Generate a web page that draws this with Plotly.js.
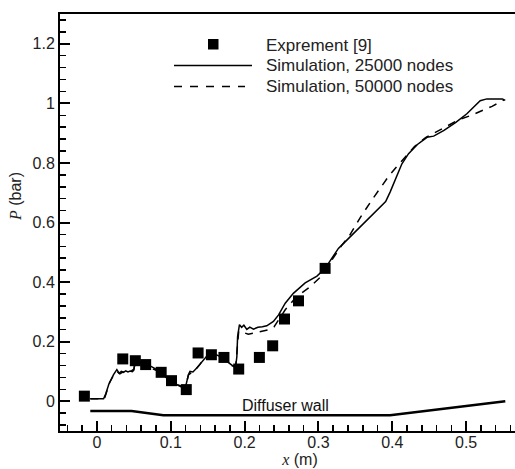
<!DOCTYPE html>
<html><head><meta charset="utf-8">
<script src="https://cdn.plot.ly/plotly-3.0.1.min.js"></script>
<style>html,body{margin:0;padding:0;overflow:hidden;background:#fff}</style>
</head><body><div id="chart" style="width:560px;height:469px"></div>
<script>
// Experiment [9]
const expX = [-0.017, 0.035, 0.052, 0.066, 0.087, 0.101, 0.121, 0.137, 0.155, 0.172, 0.192, 0.220, 0.238, 0.254, 0.273, 0.309];
const expP = [0.017, 0.142, 0.136, 0.123, 0.097, 0.069, 0.039, 0.162, 0.156, 0.147, 0.108, 0.147, 0.186, 0.276, 0.337, 0.446];
// Simulation, 25000 nodes
const sim25X = [-0.009, 0.009, 0.012, 0.016, 0.0225, 0.027, 0.030, 0.033, 0.036, 0.039, 0.042, 0.045, 0.048, 0.050, 0.051, 0.052, 0.057, 0.064, 0.070, 0.077, 0.084, 0.090, 0.099, 0.108, 0.117, 0.120, 0.122, 0.124, 0.126, 0.130, 0.1355, 0.1405, 0.1445, 0.150, 0.158, 0.167, 0.176, 0.181, 0.185, 0.188, 0.1895, 0.1905, 0.193, 0.196, 0.199, 0.203, 0.207, 0.212, 0.218, 0.224, 0.230, 0.239, 0.246, 0.255, 0.266, 0.282, 0.298, 0.309, 0.318, 0.327, 0.334, 0.352, 0.370, 0.386, 0.391, 0.397, 0.406, 0.413, 0.422, 0.434, 0.447, 0.456, 0.470, 0.486, 0.501, 0.519, 0.528, 0.549, 0.553];
const sim25P = [0.008, 0.008, 0.025, 0.056, 0.089, 0.106, 0.094, 0.100, 0.097, 0.102, 0.098, 0.101, 0.099, 0.104, 0.12, 0.139, 0.133, 0.127, 0.121, 0.112, 0.102, 0.089, 0.070, 0.056, 0.045, 0.048, 0.073, 0.090, 0.100, 0.098, 0.112, 0.128, 0.139, 0.155, 0.160, 0.150, 0.134, 0.125, 0.117, 0.118, 0.150, 0.217, 0.257, 0.248, 0.255, 0.241, 0.249, 0.242, 0.248, 0.250, 0.253, 0.268, 0.290, 0.329, 0.362, 0.397, 0.420, 0.446, 0.480, 0.513, 0.530, 0.574, 0.619, 0.658, 0.670, 0.702, 0.752, 0.797, 0.831, 0.862, 0.886, 0.890, 0.909, 0.936, 0.965, 1.009, 1.015, 1.015, 1.010];
// Simulation, 50000 nodes
const sim50X = [-0.009, 0.010, 0.013, 0.017, 0.022, 0.027, 0.031, 0.035, 0.040, 0.046, 0.050, 0.052, 0.060, 0.070, 0.080, 0.090, 0.100, 0.110, 0.118, 0.121, 0.124, 0.129, 0.134, 0.139, 0.145, 0.152, 0.160, 0.168, 0.176, 0.183, 0.188, 0.190, 0.192, 0.197, 0.205, 0.215, 0.225, 0.233, 0.240, 0.247, 0.255, 0.270, 0.289, 0.302, 0.312, 0.322, 0.332, 0.341, 0.357, 0.373, 0.385, 0.395, 0.405, 0.417, 0.430, 0.445, 0.460, 0.475, 0.490, 0.505, 0.520, 0.535, 0.551];
const sim50P = [0.008, 0.008, 0.030, 0.062, 0.085, 0.100, 0.092, 0.098, 0.096, 0.100, 0.108, 0.132, 0.126, 0.116, 0.104, 0.087, 0.067, 0.055, 0.047, 0.060, 0.088, 0.098, 0.108, 0.122, 0.143, 0.157, 0.156, 0.146, 0.131, 0.119, 0.120, 0.190, 0.235, 0.232, 0.225, 0.230, 0.235, 0.240, 0.250, 0.275, 0.307, 0.350, 0.385, 0.415, 0.452, 0.492, 0.525, 0.552, 0.618, 0.678, 0.720, 0.755, 0.785, 0.818, 0.855, 0.885, 0.905, 0.925, 0.945, 0.958, 0.975, 0.990, 1.011];
// Diffuser wall profile
const wallX = [-0.009, 0.047, 0.090, 0.397, 0.553];
const wallP = [-0.033, -0.033, -0.047, -0.047, 0.0];
const wallLabel = "Diffuser wall";
const legendLabels = ["Exprement [9]", "Simulation, 25000 nodes", "Simulation, 50000 nodes"];
const xTicks = [0, 0.1, 0.2, 0.3, 0.4, 0.5];
const yTicks = [0, 0.2, 0.4, 0.6, 0.8, 1, 1.2];

const FONT = "Liberation Sans, Arial, sans-serif";
const SERIF = "Liberation Serif, Times New Roman, serif";
const L = 60, R = 20, T = 14, B = 38, W = 560, H = 469;
const pw = W - L - R, ph = H - T - B;
const px = v => (v - L) / pw;
const py = v => (H - B - v) / ph;

const traces = [
  {x: wallX, y: wallP, mode: 'lines', line: {color: '#000', width: 2.5}, showlegend: false, hoverinfo: 'skip'},
  {x: sim50X, y: sim50P, mode: 'lines', line: {color: '#000', width: 1.5, dash: '8px,7px'}, showlegend: false},
  {x: sim25X, y: sim25P, mode: 'lines', line: {color: '#000', width: 1.5}, showlegend: false},
  {x: expX, y: expP, mode: 'markers', marker: {symbol: 'square', size: 11, color: '#000'}, showlegend: false}
];

const shapes = [
  {type: 'rect', xref: 'paper', yref: 'paper', x0: px(208), x1: px(218.5), y0: py(49.5), y1: py(39), fillcolor: '#000', line: {width: 0}},
  {type: 'line', xref: 'paper', yref: 'paper', x0: px(174), x1: px(252), y0: py(65.5), y1: py(65.5), line: {color: '#000', width: 1.5}},
  {type: 'line', xref: 'paper', yref: 'paper', x0: px(174), x1: px(245), y0: py(86.5), y1: py(86.5), line: {color: '#000', width: 1.5, dash: '8px,8px'}}
];

const annotations = legendLabels.map((t, i) => ({
  text: t, xref: 'paper', yref: 'paper', x: px(264), y: py([45.5, 65.5, 86.5][i]),
  xanchor: 'left', yanchor: 'middle', showarrow: false, font: {family: FONT, size: 17, color: '#222'}
}));
annotations.push({text: wallLabel, xref: 'x', yref: 'y', x: 0.255, y: -0.015, xanchor: 'center', yanchor: 'middle',
  showarrow: false, font: {family: FONT, size: 16, color: '#111'}});
annotations.push({text: '<span style="font-family:' + SERIF + ';font-style:italic">P</span> (bar)', xref: 'paper', yref: 'paper',
  x: px(15), y: py(197), xanchor: 'center', yanchor: 'middle', textangle: -90, showarrow: false,
  font: {family: FONT, size: 16, color: '#222'}});

const layout = {
  width: W, height: H,
  margin: {l: L, r: R, t: T, b: B},
  paper_bgcolor: '#fff', plot_bgcolor: '#fff',
  font: {family: FONT, color: '#222', size: 15},
  showlegend: false,
  xaxis: {
    range: [-0.05, 0.6], tickmode: 'array', tickvals: xTicks, ticktext: xTicks.map(String),
    ticks: 'inside', ticklen: 10, tickwidth: 2, tickcolor: '#000', ticklabelstandoff: -4,
    showline: true, linewidth: 2, linecolor: '#000', mirror: true, showgrid: false, zeroline: false,
    minor: {tickmode: 'linear', tick0: 0, dtick: 0.02, ticks: 'inside', ticklen: 6, tickwidth: 1.5, tickcolor: '#000', showgrid: false},
    tickfont: {family: FONT, size: 16, color: '#222'},
    title: {text: '<span style="font-family:' + SERIF + ';font-style:italic">x</span> (m)', font: {family: FONT, size: 16, color: '#222'}, standoff: 3}
  },
  yaxis: {
    range: [-0.1, 1.3], tickmode: 'array', tickvals: yTicks, ticktext: yTicks.map(String),
    ticks: 'inside', ticklen: 10, tickwidth: 2, tickcolor: '#000',
    showline: true, linewidth: 2, linecolor: '#000', mirror: true, showgrid: false, zeroline: false,
    minor: {tickmode: 'linear', tick0: 0, dtick: 0.04, ticks: 'inside', ticklen: 6, tickwidth: 1.5, tickcolor: '#000', showgrid: false},
    tickfont: {family: FONT, size: 16, color: '#222'}
  },
  shapes: shapes,
  annotations: annotations
};

Plotly.newPlot('chart', traces, layout, {staticPlot: true, displayModeBar: false});
</script>
</body></html>
